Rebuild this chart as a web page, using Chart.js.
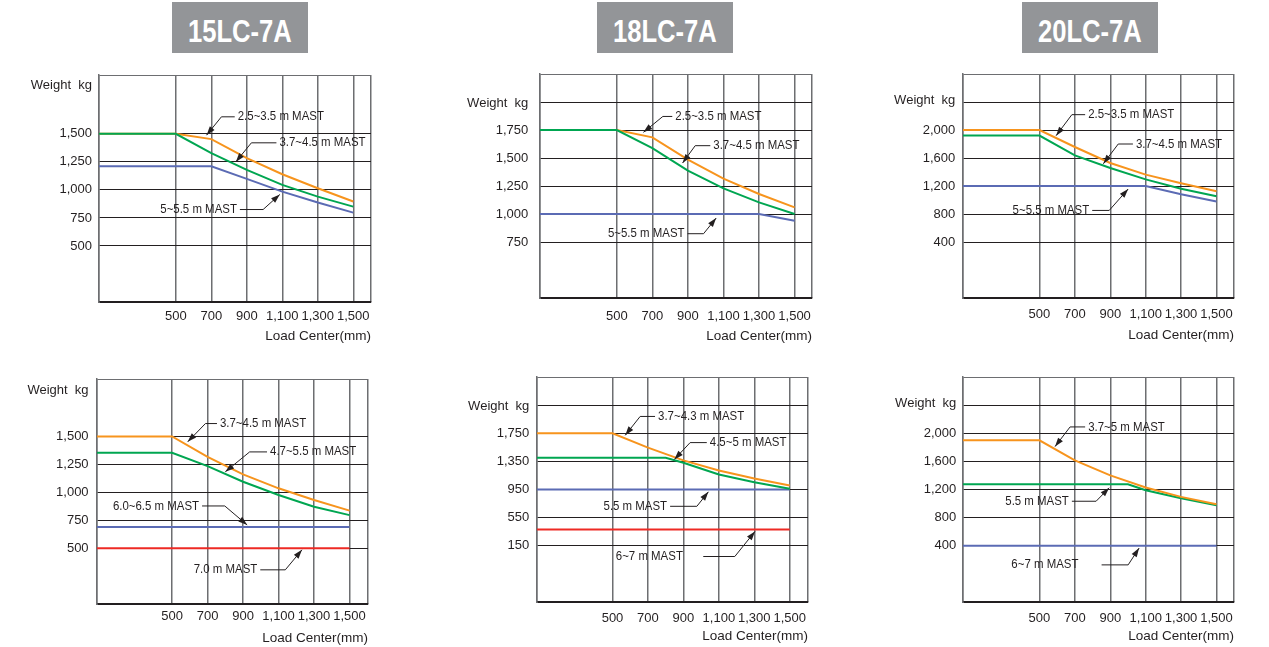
<!DOCTYPE html>
<html>
<head>
<meta charset="utf-8">
<title>Load charts</title>
<script src="https://cdn.jsdelivr.net/npm/chart.js@4.4.1/dist/chart.umd.min.js"></script>
<style>
body { margin:0; background:#fff; width:1269px; height:647px; overflow:hidden; position:relative; font-family:"Liberation Sans", Arial, sans-serif; }
.titre { position:absolute; top:2px; width:136px; height:51px; background:#939598; color:#fff; font-weight:bold; font-size:32px; text-align:center; line-height:58px; overflow:hidden; }
.titre span { display:inline-block; transform:scaleX(0.8); }
canvas { position:absolute; }
</style>
</head>
<body>
<div class="titre" style="left:172px"><span>15LC-7A</span></div>
<div class="titre" style="left:597px"><span>18LC-7A</span></div>
<div class="titre" style="left:1022px"><span>20LC-7A</span></div>

<canvas id="c15a"></canvas>
<canvas id="c18a"></canvas>
<canvas id="c20a"></canvas>
<canvas id="c15b"></canvas>
<canvas id="c18b"></canvas>
<canvas id="c20b"></canvas>

<script>
// --- Donnees : load center (mm) -> weight (kg), one array per mast ---
const LOAD_TICKS = [500, 700, 900, 1100, 1300, 1500];

// 15LC-7A (top)
const lc15a_m25_35 = [[0,1500],[500,1500],[700,1453],[900,1283],[1100,1140],[1300,1015],[1500,896]];
const lc15a_m37_45 = [[0,1500],[500,1500],[700,1328],[900,1179],[1100,1045],[1300,940],[1500,851]];
const lc15a_m5_55  = [[0,1210],[700,1210],[900,1098],[1100,985],[1300,887],[1500,797]];
const lc15a_yTicks = [500, 750, 1000, 1250, 1500];

// 18LC-7A (top)
const lc18a_m25_35 = [[0,1750],[500,1750],[700,1684],[900,1485],[1100,1315],[1300,1179],[1500,1059]];
const lc18a_m37_45 = [[0,1750],[500,1750],[700,1589],[900,1387],[1100,1229],[1300,1104],[1500,1000]];
const lc18a_m5_55  = [[0,1000],[1300,1000],[1500,940]];
const lc18a_yTicks = [750, 1000, 1250, 1500, 1750];

// 20LC-7A (top)
const lc20a_m25_35 = [[0,2000],[500,2000],[700,1757],[900,1529],[1100,1362],[1300,1238],[1500,1124]];
const lc20a_m37_45 = [[0,1920],[500,1920],[700,1637],[900,1457],[1100,1295],[1300,1160],[1500,1055]];
const lc20a_m5_55  = [[0,1200],[1100,1200],[1300,1083],[1500,979]];
const lc20a_yTicks = [400, 800, 1200, 1600, 2000];

// 15LC-7A (bottom)
const lc15b_m37_45 = [[0,1500],[500,1500],[700,1318],[900,1161],[1100,1036],[1300,931],[1500,836]];
const lc15b_m47_55 = [[0,1355],[500,1355],[700,1235],[900,1095],[1100,976],[1300,871],[1500,796]];
const lc15b_m60_65 = [[0,690],[1500,690]];
const lc15b_m70    = [[0,500],[1500,500]];
const lc15b_yTicks = [500, 750, 1000, 1250, 1500];

// 18LC-7A (bottom)
const lc18b_m37_43 = [[0,1750],[500,1750],[700,1546],[900,1364],[1100,1221],[1300,1107],[1500,1007]];
const lc18b_m45_5  = [[0,1400],[800,1400],[900,1331],[1100,1164],[1300,1054],[1500,960]];
const lc18b_m55    = [[0,950],[1500,950]];
const lc18b_m6_7   = [[0,380],[1500,380]];
const lc18b_yTicks = [150, 550, 950, 1350, 1750];

// 20LC-7A (bottom)
const lc20b_m37_5 = [[0,1900],[500,1900],[700,1614],[900,1400],[1100,1228],[1300,1095],[1500,991]];
const lc20b_m55   = [[0,1275],[1000,1275],[1100,1190],[1300,1076],[1500,976]];
const lc20b_m6_7  = [[0,400],[1500,400]];
const lc20b_yTicks = [400, 800, 1200, 1600, 2000];

const ORANGE = '#f7941d', GREEN = '#00a651', BLUE = '#5b6bb4', RED = '#ee2a24';
const INK = '#231f20', GRID_V = '#6d6e71';
const FONT = '"Liberation Sans", Arial, sans-serif';

function milliers(v) {
  return String(v).replace(/\B(?=(\d{3})+(?!\d))/g, ',');
}

// --- Charts : plot area in page pixels + axis ranges + callouts ---
const graphiques = [
  { id:'c15a', area:[99,75,371,302], x:[67,1600], y:[0,2025], ticks:lc15a_yTicks, extra:[],
    xPad:6.9, yPad:7, lc:34.7, weightAt:1935,
    series:[[lc15a_m37_45,GREEN],[lc15a_m25_35,ORANGE],[lc15a_m5_55,BLUE]],
    notes:[
      {text:'2.5~3.5 m MAST', tip:[673,1488], elbow:[757,1652], end:832, side:'right'},
      {text:'3.7~4.5 m MAST', tip:[838,1250], elbow:[926,1420], end:1067, side:'right'},
      {text:'5~5.5 m MAST', tip:[1086,959], elbow:[992,825], end:861, side:'left'}
    ]},
  { id:'c18a', area:[540,74,812,298], x:[68,1598], y:[250,2250], ticks:lc18a_yTicks, extra:[2000],
    xPad:10.9, yPad:11.7, lc:38.7, weightAt:1990,
    series:[[lc18a_m37_45,GREEN],[lc18a_m25_35,ORANGE],[lc18a_m5_55,BLUE]],
    notes:[
      {text:'2.5~3.5 m MAST', tip:[650,1729], elbow:[759,1871], end:812, side:'right'},
      {text:'3.7~4.5 m MAST', tip:[870,1455], elbow:[941,1610], end:1026, side:'right'},
      {text:'5~5.5 m MAST', tip:[1059,964], elbow:[988,824], end:898, side:'left'}
    ]},
  { id:'c20a', area:[963,74,1234,298], x:[68,1599], y:[-400,2800], ticks:lc20a_yTicks, extra:[2400],
    xPad:8.2, yPad:7.7, lc:37, weightAt:2420,
    series:[[lc20a_m25_35,ORANGE],[lc20a_m37_45,GREEN],[lc20a_m5_55,BLUE]],
    notes:[
      {text:'2.5~3.5 m MAST', tip:[594,1919], elbow:[683,2219], end:758, side:'right'},
      {text:'3.7~4.5 m MAST', tip:[861,1518], elbow:[945,1800], end:1028, side:'right'},
      {text:'5~5.5 m MAST', tip:[1001,1157], elbow:[894,851], end:798, side:'left'}
    ]},
  { id:'c15b', area:[97,379,368,604], x:[77,1604], y:[0,2015], ticks:lc15b_yTicks, extra:[],
    xPad:4.9, yPad:8.4, lc:34.3, weightAt:1913,
    series:[[lc15b_m37_45,ORANGE],[lc15b_m47_55,GREEN],[lc15b_m60_65,BLUE],[lc15b_m70,RED]],
    notes:[
      {text:'3.7~4.5 m MAST', tip:[588,1452], elbow:[688,1616], end:753, side:'right'},
      {text:'4.7~5.5 m MAST', tip:[800,1184], elbow:[937,1362], end:1035, side:'right'},
      {text:'6.0~6.5 m MAST', tip:[923,708], elbow:[797,878], end:669, side:'left'},
      {text:'7.0 m MAST', tip:[1232,485], elbow:[1138,306], end:997, side:'left'}
    ]},
  { id:'c18b', area:[537,377,808,602], x:[74,1603], y:[-650,2550], ticks:lc18b_yTicks, extra:[2150],
    xPad:8.5, yPad:7.7, lc:34.7, weightAt:2135,
    series:[[lc18b_m37_43,ORANGE],[lc18b_m45_5,GREEN],[lc18b_m55,BLUE],[lc18b_m6_7,RED]],
    notes:[
      {text:'3.7~4.3 m MAST', tip:[572,1721], elbow:[656,1989], end:740, side:'right'},
      {text:'4.5~5 m MAST', tip:[849,1378], elbow:[938,1617], end:1032, side:'right'},
      {text:'5.5 m MAST', tip:[1041,917], elbow:[976,711], end:825, side:'left'},
      {text:'6~7 m MAST', tip:[1304,354], elbow:[1190,-3], end:1012, side:'left', textAt:897}
    ]},
  { id:'c20b', area:[963,377,1234,602], x:[68,1599], y:[-400,2800], ticks:lc20b_yTicks, extra:[2400],
    xPad:8.5, yPad:6.7, lc:34.7, weightAt:2420,
    series:[[lc20b_m37_5,ORANGE],[lc20b_m55,GREEN],[lc20b_m6_7,BLUE]],
    notes:[
      {text:'3.7~5 m MAST', tip:[588,1810], elbow:[673,2090], end:758, side:'right'},
      {text:'5.5 m MAST', tip:[894,1224], elbow:[820,1033], end:683, side:'left'},
      {text:'6~7 m MAST', tip:[1063,367], elbow:[1001,128], end:851, side:'left', textAt:720}
    ]}
];

// margins around the plot area inside each canvas
const M_LEFT = 100, M_TOP = 20, M_RIGHT = 40, M_BOTTOM = 48;

// --- Plugin : axis captions + leader lines with arrows ---
function pluginFleches(g) {
  return {
    id: 'fleches',
    afterDraw(chart) {
      const ctx = chart.ctx, xs = chart.scales.x, ys = chart.scales.y, a = chart.chartArea;
      ctx.save();
      ctx.fillStyle = INK;
      ctx.textBaseline = 'middle';

      ctx.font = '13px ' + FONT;
      ctx.textAlign = 'right';
      ctx.fillText('Weight  kg', a.left - g.yPad, ys.getPixelForValue(g.weightAt));

      ctx.font = '13.5px ' + FONT;
      ctx.fillText('Load Center(mm)', a.right, a.bottom + g.lc);

      g.notes.forEach(n => {
        const tx = xs.getPixelForValue(n.tip[0]), ty = ys.getPixelForValue(n.tip[1]);
        const ex = xs.getPixelForValue(n.elbow[0]), ey = ys.getPixelForValue(n.elbow[1]);
        const fx = xs.getPixelForValue(n.end);
        ctx.strokeStyle = INK;
        ctx.lineWidth = 1;
        ctx.beginPath();
        ctx.moveTo(fx, ey);
        ctx.lineTo(ex, ey);
        ctx.lineTo(tx, ty);
        ctx.stroke();

        // arrow head
        const ang = Math.atan2(ty - ey, tx - ex);
        const L = 9, W = 3;
        ctx.beginPath();
        ctx.moveTo(tx, ty);
        ctx.lineTo(tx - L * Math.cos(ang) + W * Math.sin(ang), ty - L * Math.sin(ang) - W * Math.cos(ang));
        ctx.lineTo(tx - L * Math.cos(ang) - W * Math.sin(ang), ty - L * Math.sin(ang) + W * Math.cos(ang));
        ctx.closePath();
        ctx.fill();

        const textX = n.textAt !== undefined ? xs.getPixelForValue(n.textAt) : fx + (n.side === 'right' ? 3 : -3);
        ctx.save();
        ctx.translate(textX, ey);
        ctx.scale(0.88, 1);
        ctx.font = '13px ' + FONT;
        ctx.textAlign = n.side === 'right' ? 'left' : 'right';
        ctx.fillText(n.text, 0, 0);
        ctx.restore();
      });
      ctx.restore();
    }
  };
}

function dessinerGraphique(g) {
  const [l, t, r, b] = g.area;
  const canvas = document.getElementById(g.id);
  canvas.width = r - l + M_LEFT + M_RIGHT;
  canvas.height = b - t + M_TOP + M_BOTTOM;
  canvas.style.left = (l - M_LEFT) + 'px';
  canvas.style.top = (t - M_TOP) + 'px';

  const xValues = [g.x[0], ...LOAD_TICKS, g.x[1]];
  const yValues = [g.y[0], ...g.ticks, ...g.extra, g.y[1]];

  new Chart(canvas, {
    type: 'line',
    data: {
      datasets: g.series.map(([pts, color]) => ({
        data: pts,
        borderColor: color,
        borderWidth: 2,
        pointRadius: 0,
        tension: 0,
        fill: false
      }))
    },
    options: {
      responsive: false,
      animation: false,
      events: [],
      layout: { padding: { top: M_TOP, right: M_RIGHT, left: 0, bottom: 0 } },
      plugins: { legend: { display: false }, tooltip: { enabled: false } },
      scales: {
        x: {
          type: 'linear',
          min: g.x[0],
          max: g.x[1],
          afterBuildTicks: s => { s.ticks = xValues.map(v => ({ value: v })); },
          afterFit: s => { s.height = M_BOTTOM; },
          ticks: {
            autoSkip: false, maxRotation: 0, minRotation: 0,
            padding: g.xPad, color: INK,
            font: { family: FONT, size: 13 },
            callback: v => LOAD_TICKS.includes(v) ? milliers(v) : ''
          },
          grid: { color: GRID_V, lineWidth: 1.5, drawTicks: false },
          border: { color: INK, width: 1.5 }
        },
        y: {
          type: 'linear',
          min: g.y[0],
          max: g.y[1],
          afterBuildTicks: s => { s.ticks = yValues.map(v => ({ value: v })); },
          afterFit: s => { s.width = M_LEFT; },
          ticks: {
            autoSkip: false, padding: g.yPad, color: INK,
            font: { family: FONT, size: 13 },
            callback: v => g.ticks.includes(v) ? milliers(v) : ''
          },
          grid: {
            color: c => (c.tick && c.tick.value === g.y[1]) ? GRID_V : INK,
            lineWidth: 1, drawTicks: false
          },
          border: { color: GRID_V, width: 1.5 }
        }
      }
    },
    plugins: [pluginFleches(g)]
  });
}

graphiques.forEach(dessinerGraphique);
</script>
</body>
</html>
